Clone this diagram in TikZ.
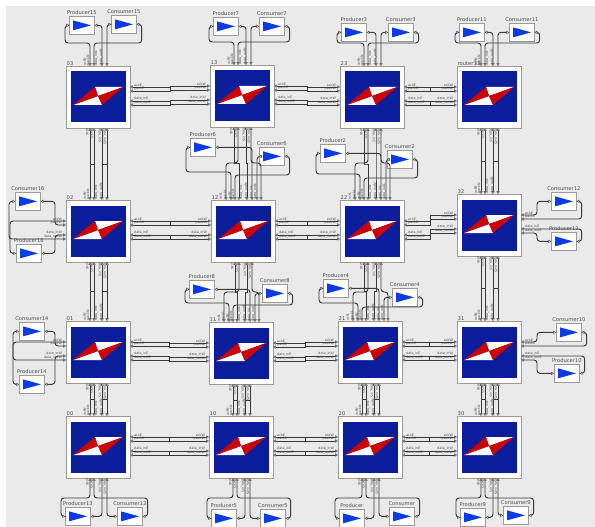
\documentclass[tikz,border=0pt]{standalone}
\usepackage{fontspec}
\setmainfont{DejaVu Sans}
\usetikzlibrary{arrows.meta,calc}
\definecolor{canvas}{HTML}{EAEAEA}
\definecolor{wirec}{HTML}{3A3A3A}
\definecolor{edgec}{HTML}{9A9A9A}
\definecolor{ink}{HTML}{505050}
\definecolor{navy}{HTML}{0A1E9C}
\definecolor{vred}{HTML}{CC0000}
\definecolor{vblue}{HTML}{0B3BE6}

\begin{document}
\begin{tikzpicture}[x=1pt, y=-1pt, font=\fontsize{5.2}{6}\selectfont,
  router/.style={draw=edgec, fill=white, line width=0.8pt, inner sep=0pt, minimum width=64pt, minimum height=62pt, anchor=north west},
  agent/.style={draw=edgec, fill=white, line width=0.7pt, inner sep=0pt, minimum width=25pt, minimum height=18pt, anchor=north west},
  tag/.style={text=ink, inner sep=1pt},
  wire/.style={{Triangle[fill=white,length=2.6pt,width=3.2pt,line width=0.4pt]}-{Triangle[fill=white,length=2.6pt,width=3.2pt,line width=0.4pt]}, line width=0.95pt, draw=wirec},
  lwire/.style={wire, rounded corners=3pt},
  hjog/.style={to path={-| ($(\tikztostart)!.5!(\tikztotarget)$) |- (\tikztotarget)}},
  vjog/.style={to path={|- ($(\tikztostart)!.5!(\tikztotarget)$) -| (\tikztotarget)}},
  plab/.style={font=\fontsize{3.3}{3.3}\selectfont, text=ink, inner sep=0pt, anchor=south west}]

\useasboundingbox (0,0) rectangle (595,527);
\fill[canvas] (6,6) rectangle (595,527);

% ---------------- routers with their ports
\foreach \n/\x/\y/\txt in {03/66/66/03,13/210/65/13,23/340/66/23,33/457/66/router33,
    02/66/200/02,12/211/200/12,22/340/200/22,32/457/194/32,
    01/66/321/01,11/209/322/11,21/338/321/21,31/457/321/31,
    00/66/416/00,10/209/416/10,20/338/416/20,30/457/416/30}{
  \node[router] (r\n) at (\x,\y) {};
  \node[tag, anchor=south west, inner sep=0.5pt] (t\n) at (r\n.north west) {\txt};
  \begin{scope}[shift={(\x,\y)}]
    \fill[navy] (4.5,5.5) rectangle (60,56.5);
    \fill[white] (7,39) -- (36,39) -- (32,30) -- cycle (29,21) -- (57,21) -- (32,30) -- cycle;
    \fill[vred] (7,39) -- (29,21) -- (32,30) -- cycle (57,21) -- (36,39) -- (32,30) -- cycle;
    \foreach \i/\d/\e in {1/24/21,2/28/25,3/36/35,4/41/39}{
      \coordinate (r\n-n\i) at (\d,0);
      \coordinate (r\n-s\i) at (\d,62);
      \coordinate (r\n-e\i) at (64,\e);
      \coordinate (r\n-w\i) at (0,\e);
    }
    \foreach \i/\d in {5/15,6/20,7/46,8/50}
      \coordinate (r\n-n\i) at (\d,0);
  \end{scope}
}

% ---------------- port labels
\foreach \i/\t in {1/ack,2/pack,3/data\_in,4/data\_out}{
  \foreach \n in {03,13,23,33,02,12,22,32,01,11,21,31,00,10,20,30}{
    \node[plab, rotate=90, yshift=4pt] (l\n-n\i) at (r\n-n\i) {\t N};
    \node[plab, rotate=-90, yshift=-4pt] (l\n-s\i) at (r\n-s\i) {\t S};
  }
  \foreach \n in {03,13,23,02,12,22,32,01,11,21,31,00,10,20}
    \node[plab, xshift=4pt, yshift=0.4pt] (l\n-e\i) at (r\n-e\i) {\t E};
  \foreach \n in {13,23,33,02,12,22,32,01,11,21,31,10,20,30}
    \node[plab, anchor=south east, xshift=-4pt, yshift=0.4pt] (l\n-w\i) at (r\n-w\i) {\t W};
}
\foreach \i/\t in {5/ack,6/pack,7/data\_in,8/data\_out}
  \foreach \n in {12,22,11,21}
    \node[plab, rotate=90, yshift=4pt] (l\n-n\i) at (r\n-n\i) {\t L};

% ---------------- producers and consumers
\foreach \nm/\txt/\x/\y in {p15/Producer15/69/16,c15/Consumer15/111/15,p7/Producer7/213/17,c7/Consumer7/259/17,
    p3/Producer3/341/23,c3/Consumer3/388/23,p11/Producer11/459/23,c11/Consumer11/509/23,
    p6/Producer6/190/138,c6/Consumer6/259/147,p2/Producer2/320/144,c2/Consumer2/387/150,
    p8/Producer8/189/280,c8/Consumer8/262/284,p4/Producer4/323/279,c4/Consumer4/392/288,
    c16/Consumer16/15/192,p16/Producer16/16/244,c14/Consumer14/19/322,p14/Producer14/19/375,
    c12/Consumer12/551/192,p12/Producer12/551/232,c10/Consumer10/556/323,p10/Producer10/554/364,
    p13/Producer13/65/507,c13/Consumer13/117/507,p5/Producer5/211/509,c5/Consumer5/260/509,
    p0/Producer/339/509,c0/Consumer/389/507,p9/Producer9/460/508,c9/Consumer9/503/506}{
  \node[agent] (\nm) at (\x,\y) {};
  \node[tag, anchor=south] (t\nm) at (\nm.north) {\txt};
  \fill[vblue] ($(\nm.west)+(4,-5)$) -- ($(\nm.west)+(22,0)$) -- ($(\nm.west)+(4,5)$) -- cycle;
}

% ---------------- mesh links
\foreach \a/\b in {03/13,13/23,23/33,02/12,12/22,22/32,01/11,11/21,21/31,00/10,10/20,20/30}{
  \draw[wire] (r\a-e1) to[hjog] (r\b-w2);
  \draw[wire] (r\a-e2) to[hjog] (r\b-w1);
  \draw[wire] (r\a-e3) to[hjog] (r\b-w4);
  \draw[wire] (r\a-e4) to[hjog] (r\b-w3);
}
\foreach \a/\b in {03/02,33/32,02/01,32/31,01/00,11/10,21/20,31/30}{
  \draw[wire] (r\a-s1) to[vjog] (r\b-n2);
  \draw[wire] (r\a-s2) to[vjog] (r\b-n1);
  \draw[wire] (r\a-s3) to[vjog] (r\b-n4);
  \draw[wire] (r\a-s4) to[vjog] (r\b-n3);
}

% ---------------- local agents: top and bottom rows
\foreach \pr/\co/\rt in {p15/c15/03,p7/c7/13,p3/c3/23,p11/c11/33}{
  \draw[lwire] (\pr.west) -- ++(-4,0) |- ($(r\rt-n1)+(0,-23)$) -- (r\rt-n1);
  \draw[lwire] (\pr.east) -| (r\rt-n3);
  \draw[lwire] (\co.west) -| (r\rt-n4);
  \draw[lwire] (\co.east) -- ++(5,0) |- ($(r\rt-n2)+(0,-23)$) -- (r\rt-n2);
}
\foreach \pr/\co/\rt in {p13/c13/00,p5/c5/10,p0/c0/20,p9/c9/30}{
  \draw[lwire] (\pr.west) -- ++(-4,0) |- ($(r\rt-s1)+(0,20)$) -- (r\rt-s1);
  \draw[lwire] (\pr.east) -| (r\rt-s3);
  \draw[lwire] (\co.west) -| (r\rt-s4);
  \draw[lwire] (\co.east) -- ++(5,0) |- ($(r\rt-s2)+(0,20)$) -- (r\rt-s2);
}

% ---------------- local agents: left and right columns
\foreach \pr/\co/\rt in {p16/c16/02,p14/c14/01}{
  \draw[lwire] (\pr.west) -- ++(-6,0) |- (r\rt-w1);
  \draw[lwire] (\co.west) -- ++(-6,0) |- (r\rt-w4);
  \draw[lwire] (\co.east) -| ($(r\rt-w2)+(-11,0)$) -- (r\rt-w2);
  \draw[lwire] (\pr.east) -| ($(r\rt-w3)+(-11,0)$) -- (r\rt-w3);
}
\foreach \pr/\co/\rt in {p12/c12/32,p10/c10/31}{
  \draw[lwire] (\co.west) -| ($(r\rt-e1)+(16,0)$) -- (r\rt-e1);
  \draw[lwire] (\pr.west) -| ($(r\rt-e4)+(16,0)$) -- (r\rt-e4);
  \draw[lwire] (\co.east) -- ++(5,0) |- (r\rt-e2);
  \draw[lwire] (\pr.east) -- ++(5,0) |- (r\rt-e3);
}

% ---------------- inner routers take the local agents from the north
\foreach \rt/\up/\pr/\co/\lp/\bp/\bc in {12/13/p6/c6/37/28/25,22/23/p2/c2/37/26/22,11/12/p8/c8/30/19/17,21/22/p4/c4/29/18/14}{
  \draw[wire] (r\up-s1) to[vjog] (r\rt-n2);
  \draw[lwire] (r\up-s2) |- ($(r\rt-n5)+(0,-\lp)$) -- (r\rt-n5);
  \draw[wire] (r\up-s3) to[vjog] (r\rt-n3);
  \draw[lwire] (r\up-s4) |- ($(r\rt-n8)+(0,-\lp)$) -- (r\rt-n8);
  \draw[lwire] (\pr.west) -- ++(-4,0) |- ($(r\rt-n6)+(0,-\bp)$) -- (r\rt-n6);
  \draw[lwire] (\pr.east) -| (r\rt-n4);
  \draw[lwire] (\co.west) -| (r\rt-n7);
  \draw[lwire] (\co.east) -- ++(5,0) |- ($(r\rt-n1)+(0,-\bc)$) -- (r\rt-n1);
}
\end{tikzpicture}
\end{document}
